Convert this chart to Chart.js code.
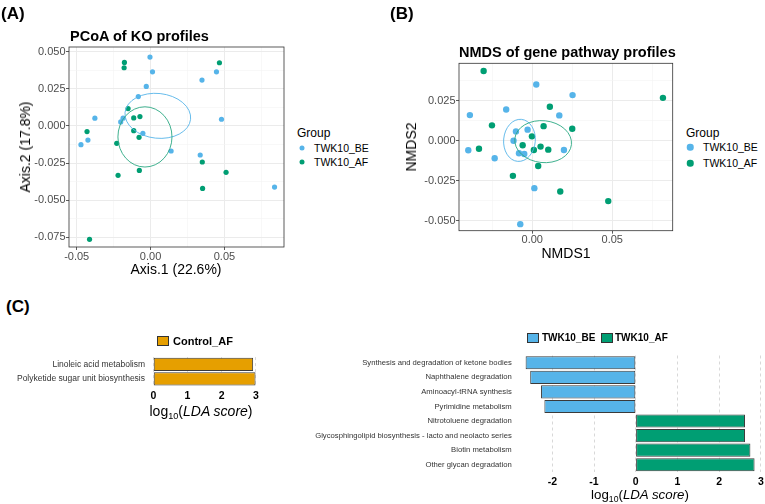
<!DOCTYPE html>
<html><head><meta charset="utf-8">
<script src="https://cdn.jsdelivr.net/npm/chart.js@4.4.1/dist/chart.umd.min.js"></script>
<style>
body{margin:0;background:#fff;}
#root{position:relative;width:765px;height:504px;background:#fff;overflow:hidden;font-family:"Liberation Sans",Arial,sans-serif;color:#000;}
canvas{position:absolute;}
.t{position:absolute;white-space:nowrap;line-height:1;transform:translateY(-50%);}
.c{transform:translate(-50%,-50%);}
.r{transform:translate(-50%,-50%) rotate(-90deg);}
.b{font-weight:bold;}
.dot{position:absolute;border-radius:50%;transform:translate(-50%,-50%);}
.sw{position:absolute;box-sizing:border-box;border:1px solid #333;}
sub{font-size:65%;vertical-align:-0.35em;line-height:0;}
</style></head><body><div id="root">
<canvas id="cA" width="290" height="265" style="left:0;top:0;width:290px;height:265px"></canvas>
<canvas id="cB" width="300" height="250" style="left:380px;top:0;width:300px;height:250px"></canvas>
<canvas id="cC1" width="265" height="70" style="left:0;top:345px;width:265px;height:70px"></canvas>
<canvas id="cC2" width="475" height="150" style="left:300px;top:345px;width:475px;height:150px"></canvas>

<div class="t b" style="left:1px;top:13px;font-size:17px">(A)</div>
<div class="t b" style="left:390px;top:13px;font-size:17px">(B)</div>
<div class="t b" style="left:6px;top:306px;font-size:17px">(C)</div>

<div class="t b" style="left:70px;top:36px;font-size:14.5px">PCoA of KO profiles</div>
<div class="t c" style="left:25px;top:147px;font-size:14px" id="ayt">Axis.2 (17.8%)</div>
<div class="t c" style="left:176px;top:269px;font-size:14px">Axis.1 (22.6%)</div>
<div class="t" style="left:297px;top:133px;font-size:12px">Group</div>
<div class="dot" style="left:302px;top:148px;width:5px;height:5px;background:#56B4E9"></div>
<div class="dot" style="left:302px;top:162px;width:5px;height:5px;background:#009E73"></div>
<div class="t" style="left:314px;top:148px;font-size:10.5px">TWK10_BE</div>
<div class="t" style="left:314px;top:162px;font-size:10.5px">TWK10_AF</div>

<div class="t b" style="left:459px;top:52px;font-size:14.5px">NMDS of gene pathway profiles</div>
<div class="t c" style="left:411px;top:147px;font-size:14px" id="byt">NMDS2</div>
<div class="t c" style="left:566px;top:253px;font-size:14px">NMDS1</div>
<div class="t" style="left:686px;top:133px;font-size:12px">Group</div>
<div class="dot" style="left:690px;top:147px;width:6.5px;height:6.5px;background:#56B4E9"></div>
<div class="dot" style="left:690px;top:163px;width:6.5px;height:6.5px;background:#009E73"></div>
<div class="t" style="left:703px;top:147px;font-size:10.5px">TWK10_BE</div>
<div class="t" style="left:703px;top:163px;font-size:10.5px">TWK10_AF</div>

<div class="sw" style="left:157px;top:336px;width:12px;height:10px;background:#E69F00"></div>
<div class="t b" style="left:173px;top:341px;font-size:11px">Control_AF</div>
<div class="sw" style="left:527px;top:333px;width:12px;height:10px;background:#56B4E9"></div>
<div class="t b" style="left:542px;top:338px;font-size:10px">TWK10_BE</div>
<div class="sw" style="left:601px;top:333px;width:12px;height:10px;background:#009E73"></div>
<div class="t b" style="left:615px;top:338px;font-size:10px">TWK10_AF</div>

<div class="t c" style="left:201px;top:411px;font-size:14px">log<sub>10</sub>(<i>LDA score</i>)</div>
<div class="t c" style="left:640px;top:495px;font-size:13.3px">log<sub>10</sub>(<i>LDA score</i>)</div>
</div>
<script>
document.getElementById('ayt').className='t r';
document.getElementById('byt').className='t r';

// ---------- Panel A: PCoA of KO profiles ----------
const aBeX = [-0.0004,0.0013,-0.0029,-0.0083,0.0348,0.0446,0.0480,-0.0377,-0.0202,-0.0186,-0.0052,-0.0424,-0.0471,0.0139,0.0336,0.0839];
const aBeY = [0.0464,0.0365,0.0266,0.0198,0.0309,0.0365,0.0045,0.0052,0.0027,0.0052,-0.0050,-0.0095,-0.0126,-0.0169,-0.0196,-0.0412];
const aAfX = [-0.0177,-0.0179,0.0466,-0.0152,-0.0114,-0.0072,-0.0114,-0.0078,-0.0430,-0.0229,-0.0220,-0.0076,0.0350,0.0511,0.0352,-0.0413];
const aAfY = [0.0428,0.0392,0.0426,0.0117,0.0054,0.0063,-0.0032,-0.0077,-0.0038,-0.0117,-0.0333,-0.0300,-0.0243,-0.0313,-0.0421,-0.0764];
// ellipse: [cx, cy, rx, ry, rotationDeg]
const aBeEllipse = [0.0049, 0.0068, 0.0223, 0.0151, 6];
const aAfEllipse = [-0.0038, -0.0074, 0.0183, 0.0203, 0];
const aXMajor = [-0.05, 0, 0.05];
const aXMajorLabels = ["-0.05","0.00","0.05"];
const aXMinor = [-0.025, 0.025, 0.075];
const aYMajor = [-0.075,-0.05,-0.025,0,0.025,0.05];
const aYMajorLabels = ["-0.075","-0.050","-0.025","0.000","0.025","0.050"];
const aYMinor = [-0.0625,-0.0375,-0.0125,0.0125,0.0375];

// ---------- Panel B: NMDS of gene pathway profiles ----------
const bBeX = [0.0025,0.0252,-0.0390,-0.0163,0.0169,-0.0102,-0.0029,-0.0117,-0.0400,-0.0235,-0.0083,-0.0050,0.0198,0.0013,-0.0075];
const bBeY = [0.0351,0.0285,0.0160,0.0195,0.0158,0.0058,0.0069,0.0000,-0.0060,-0.0110,-0.0079,-0.0083,-0.0058,-0.0297,-0.0522];
const bAfX = [-0.0304,0.0817,0.0110,-0.0252,0.0071,0.0250,-0.0002,-0.0060,-0.0333,0.0010,0.0052,0.0100,0.0037,-0.0121,0.0175,0.0475];
const bAfY = [0.0436,0.0268,0.0212,0.0096,0.0091,0.0075,0.0027,-0.0029,-0.0050,-0.0058,-0.0037,-0.0056,-0.0158,-0.0220,-0.0318,-0.0378];
const bBeEllipse = [-0.0080, 0.0002, 0.0099, 0.0132, 5];
const bAfEllipse = [0.0068, -0.0006, 0.0178, 0.0131, 6];
const bXMajor = [0, 0.05];
const bXMajorLabels = ["0.00","0.05"];
const bXMinor = [-0.025, 0.025, 0.075];
const bYMajor = [-0.05,-0.025,0,0.025];
const bYMajorLabels = ["-0.050","-0.025","0.000","0.025"];
const bYMinor = [-0.0375,-0.0125,0.0125,0.0375];

// ---------- Panel C: LEfSe LDA scores ----------
const c1Categories = ["Linoleic acid metabolism","Polyketide sugar unit biosynthesis"];
const c1Control = [2.92, 2.99];
const c1Ticks = [0,1,2,3];
const c2Categories = ["Synthesis and degradation of ketone bodies","Naphthalene degradation","Aminoacyl-tRNA synthesis","Pyrimidine metabolism","Nitrotoluene degradation","Glycosphingolipid biosynthesis - lacto and neolacto series","Biotin metabolism","Other glycan degradation"];
const c2BE = [-2.64,-2.53,-2.27,-2.19,null,null,null,null];
const c2AF = [null,null,null,null,2.62,2.62,2.75,2.85];
const c2Ticks = [-2,-1,0,1,2,3];

const BLUE = '#56B4E9', GREEN = '#009E73', ORANGE = '#E69F00';
Chart.defaults.font.family = '"Liberation Sans", Arial, sans-serif';
Chart.defaults.animation = false;

const pairs = (xs, ys) => xs.map((x, i) => ({x, y: ys[i]}));

const framePlugin = {
  id: 'frame',
  afterDraw(chart, args, opts) {
    if (!opts.on) return;
    const a = chart.chartArea, c = chart.ctx;
    c.save(); c.strokeStyle = '#333'; c.lineWidth = 0.8;
    c.strokeRect(a.left, a.top, a.right - a.left, a.bottom - a.top);
    c.restore();
  }
};
const ellipsePlugin = {
  id: 'ellipses',
  afterDatasetsDraw(chart, args, opts) {
    if (!opts.list) return;
    const xs = chart.scales.x, ys = chart.scales.y, c = chart.ctx, a = chart.chartArea;
    c.save();
    c.beginPath(); c.rect(a.left, a.top, a.right - a.left, a.bottom - a.top); c.clip();
    opts.list.forEach(([e, col]) => {
      const cx = xs.getPixelForValue(e[0]), cy = ys.getPixelForValue(e[1]);
      const rx = Math.abs(xs.getPixelForValue(e[0] + e[2]) - cx);
      const ry = Math.abs(ys.getPixelForValue(e[1] + e[3]) - cy);
      c.beginPath();
      c.ellipse(cx, cy, rx, ry, e[4] * Math.PI / 180, 0, Math.PI * 2);
      c.strokeStyle = col; c.lineWidth = 0.9; c.stroke();
    });
    c.restore();
  }
};

function scatterScale(min, max, majors, labels, minors, fitKey, fitVal) {
  const all = majors.map(v => ({value: v, mj: true})).concat(minors.map(v => ({value: v, mj: false})))
    .sort((p, q) => p.value - q.value);
  return {
    type: 'linear', min, max, bounds: 'data',
    afterBuildTicks(s) { s.ticks = all.map(t => ({value: t.value, mj: t.mj})); },
    afterFit(s) { s[fitKey] = fitVal; },
    ticks: {
      autoSkip: false, maxRotation: 0, minRotation: 0, padding: fitKey === 'width' ? 0.5 : 0,
      color: '#4d4d4d', font: {size: 11},
      callback(v) { const i = majors.findIndex(m => Math.abs(m - v) < 1e-9); return i >= 0 ? labels[i] : ''; }
    },
    grid: {
      color: ctx => ctx.tick && ctx.tick.mj ? '#ebebeb' : '#f3f3f3',
      lineWidth: ctx => ctx.tick && ctx.tick.mj ? 1 : 0.6,
      drawTicks: true, tickLength: 3,
      tickColor: ctx => ctx.tick && ctx.tick.mj ? '#333' : 'rgba(0,0,0,0)',
      tickWidth: 0.8
    },
    border: {display: false}
  };
}

function scatterChart(id, beX, beY, afX, afY, r, xCfg, yCfg, pad, ellipses) {
  return new Chart(document.getElementById(id), {
    type: 'scatter',
    data: {datasets: [
      {label: 'TWK10_BE', data: pairs(beX, beY), backgroundColor: BLUE, pointRadius: r, pointBorderWidth: 0, pointHoverRadius: r},
      {label: 'TWK10_AF', data: pairs(afX, afY), backgroundColor: GREEN, pointRadius: r, pointBorderWidth: 0, pointHoverRadius: r}
    ]},
    options: {
      responsive: false, animation: false,
      layout: {padding: pad},
      plugins: {legend: {display: false}, tooltip: {enabled: false}, frame: {on: true}, ellipses: {list: ellipses}},
      scales: {x: xCfg, y: yCfg}
    },
    plugins: [framePlugin, ellipsePlugin]
  });
}

scatterChart('cA', aBeX, aBeY, aAfX, aAfY, 2.6,
  scatterScale(-0.0552, 0.0903, aXMajor, aXMajorLabels, aXMinor, 'height', 14),
  scatterScale(-0.0816, 0.0532, aYMajor, aYMajorLabels, aYMinor, 'width', 69),
  {top: 47, left: 0, right: 6, bottom: 4},
  [[aBeEllipse, BLUE], [aAfEllipse, '#2aa882']]);

scatterChart('cB', bBeX, bBeY, bAfX, bAfY, 3.2,
  scatterScale(-0.0458, 0.0878, bXMajor, bXMajorLabels, bXMinor, 'height', 14),
  scatterScale(-0.0563, 0.0484, bYMajor, bYMajorLabels, bYMinor, 'width', 79),
  {top: 63.3, left: 0, right: 7.3, bottom: 5.3},
  [[bBeEllipse, BLUE], [bAfEllipse, '#2aa882']]);

function barXScale(min, max, tickVals) {
  return {
    type: 'linear', min, max, bounds: 'data',
    afterBuildTicks(s) { s.ticks = tickVals.map(v => ({value: v})); },
    afterFit(s) { s.height = 14; },
    ticks: {autoSkip: false, maxRotation: 0, padding: 3.8, color: '#000', font: {size: 10.5, weight: 'bold'},
      callback: v => String(v)},
    grid: {color: '#cfcfcf', lineWidth: 0.8, drawTicks: false},
    border: {display: false, dash: [3, 3]}
  };
}
function barYScale(width, pad, size) {
  return {
    type: 'category',
    afterFit(s) { s.width = width; },
    ticks: {autoSkip: false, padding: pad, color: '#333', font: {size: size}},
    grid: {display: false, drawTicks: false},
    border: {display: false}
  };
}

new Chart(document.getElementById('cC1'), {
  type: 'bar',
  data: {labels: c1Categories, datasets: [
    {label: 'Control_AF', data: c1Control, backgroundColor: ORANGE, borderColor: '#3a3a3a', borderWidth: 1, borderSkipped: false,
     barPercentage: 0.9, categoryPercentage: 1}
  ]},
  options: {
    indexAxis: 'y', responsive: false, animation: false,
    layout: {padding: {top: 12.1, left: 0, right: 4, bottom: 14.9}},
    plugins: {legend: {display: false}, tooltip: {enabled: false}},
    scales: {x: barXScale(-0.15, 3.15, c1Ticks), y: barYScale(148.2, 3.2, 8.5)}
  }
});

new Chart(document.getElementById('cC2'), {
  type: 'bar',
  data: {labels: c2Categories, datasets: [
    {label: 'TWK10_BE', data: c2BE, backgroundColor: BLUE, borderColor: '#3a3a3a', borderWidth: 1, borderSkipped: false,
     barPercentage: 0.9, categoryPercentage: 1, grouped: false},
    {label: 'TWK10_AF', data: c2AF, backgroundColor: GREEN, borderColor: '#3a3a3a', borderWidth: 1, borderSkipped: false,
     barPercentage: 0.9, categoryPercentage: 1, grouped: false}
  ]},
  options: {
    indexAxis: 'y', responsive: false, animation: false,
    layout: {padding: {top: 10.5, left: 0, right: 10, bottom: 9}},
    plugins: {legend: {display: false}, tooltip: {enabled: false}},
    scales: {x: barXScale(-2.91, 3.10, c2Ticks), y: barYScale(214.35, 2.6, 7.7)}
  }
});
</script>
</body></html>
